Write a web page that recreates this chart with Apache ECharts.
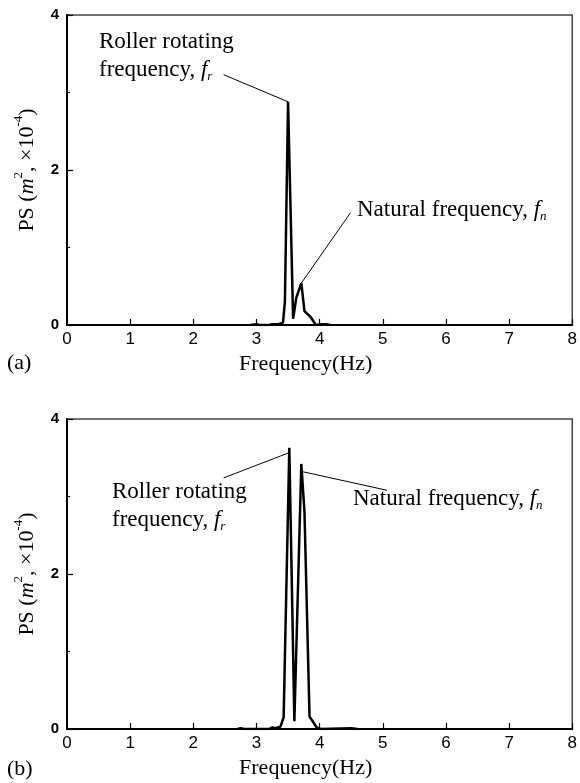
<!DOCTYPE html>
<html>
<head>
<meta charset="utf-8">
<script src="https://cdn.jsdelivr.net/npm/echarts@6/dist/echarts.min.js"></script>
<style>
html,body{margin:0;padding:0;background:#fff;}
#c{width:580px;height:783px;}
</style>
</head>
<body>
<div id="c"></div>
<script>
// Panel (a)
const freqA = [2.9, 3.0, 3.05, 3.2, 3.25, 3.35, 3.42, 3.45, 3.5, 3.58, 3.63, 3.71, 3.76, 3.86, 3.94, 4.03, 4.1, 4.17];
const psA   = [0,   0.01, 0,   0,   0.01, 0.01, 0.03, 0.3, 2.88, 0.08, 0.35, 0.54, 0.18, 0.10, 0,   0.01, 0.01, 0];
// Panel (b)
const freqB = [2.7, 2.75, 2.8, 3.2, 3.25, 3.3, 3.38, 3.43, 3.52, 3.6, 3.71, 3.76, 3.84, 3.89, 3.95, 4.02, 4.5, 4.6];
const psB   = [0,   0.01, 0,   0,   0.02, 0.01, 0.03, 0.15, 3.63, 0.1, 3.42, 2.8, 0.16, 0.10, 0.02, 0,   0.01, 0];
const xTicks = [0, 1, 2, 3, 4, 5, 6, 7, 8];
const yTicks = [0, 2, 4];

const serif = '"Liberation Serif","Times New Roman",serif';
const sans = '"Liberation Sans",Arial,sans-serif';

function pairs(xs, ys){ return xs.map((x,i)=>[x, ys[i]]); }

function xAxisCfg(gi){
  return {
    type:'value', gridIndex:gi, min:xTicks[0], max:xTicks[xTicks.length-1], interval:1,
    axisLine:{show:true, lineStyle:{color:'#000', width:2}},
    axisTick:{show:true, inside:true, length:6, lineStyle:{color:'#000', width:1.2}},
    axisLabel:{color:'#000', fontFamily:sans, fontSize:17, margin:6},
    splitLine:{show:false},
    name:'Frequency(Hz)', nameLocation:'middle', nameGap:28,
    nameTextStyle:{color:'#000', fontFamily:serif, fontSize:22, padding:[0,28,0,0]}
  };
}
function yAxisCfg(gi){
  return {
    type:'value', gridIndex:gi, min:yTicks[0], max:yTicks[yTicks.length-1], interval:2,
    axisLine:{show:true, lineStyle:{color:'#000', width:2}},
    axisTick:{show:true, inside:true, length:6, lineStyle:{color:'#000', width:1.2}},
    minorTick:{show:true, splitNumber:2, length:3, lineStyle:{color:'#000', width:1}},
    axisLabel:{color:'#000', fontFamily:sans, fontSize:15, fontWeight:'bold', margin:8},
    splitLine:{show:false},
    name:'{n|PS (}{i|m}{s|2}{n|, ×10}{s|-4}{n|)}', nameLocation:'middle', nameGap:29,
    nameTextStyle:{
      color:'#000', fontFamily:serif, fontSize:22,
      rich:{
        n:{fontFamily:serif, fontSize:22, color:'#000', lineHeight:26, verticalAlign:'bottom'},
        i:{fontFamily:serif, fontSize:22, fontStyle:'italic', color:'#000', lineHeight:26, verticalAlign:'bottom'},
        s:{fontFamily:serif, fontSize:13, color:'#000', lineHeight:26, verticalAlign:'top'}
      }
    }
  };
}
const lineStyleNote = {color:'#000', width:1, type:'solid'};
function note(coordA, coordB){
  return {silent:true, symbol:['none','none'], label:{show:false}, lineStyle:lineStyleNote,
          data:[[{coord:coordA},{coord:coordB}]]};
}
const richLabel = {
  t:{fontFamily:serif, fontSize:23, color:'#000', lineHeight:28},
  f:{fontFamily:serif, fontSize:23, fontStyle:'italic', color:'#000', lineHeight:28},
  u:{fontFamily:serif, fontSize:13, fontStyle:'italic', color:'#000', lineHeight:28, verticalAlign:'bottom'}
};
function txt(x, y, str){
  return {type:'text', left:x, top:y, style:{text:str, rich:richLabel, font:'23px '+serif, fill:'#000'}};
}

const option = {
  backgroundColor:'#fff',
  animation:false,
  grid:[
    {left:67, top:15, width:511, height:310, show:true, borderColor:'#444', borderWidth:1.5, backgroundColor:'transparent'},
    {left:67, top:419, width:511, height:310, show:true, borderColor:'#444', borderWidth:1.5, backgroundColor:'transparent'}
  ],
  xAxis:[xAxisCfg(0), xAxisCfg(1)],
  yAxis:[yAxisCfg(0), yAxisCfg(1)],
  series:[
    {type:'line', xAxisIndex:0, yAxisIndex:0, data:pairs(freqA, psA), symbol:'none',
     lineStyle:{color:'#000', width:2.5}, markLine:{...note([3.5,2.88],[2.48,3.23])}},
    {type:'line', xAxisIndex:0, yAxisIndex:0, data:[], symbol:'none',
     markLine:{...note([3.71,0.54],[4.49,1.45])}},
    {type:'line', xAxisIndex:1, yAxisIndex:1, data:pairs(freqB, psB), symbol:'none',
     lineStyle:{color:'#000', width:2.5}, markLine:{...note([3.5,3.56],[2.48,3.24])}},
    {type:'line', xAxisIndex:1, yAxisIndex:1, data:[], symbol:'none',
     markLine:{...note([3.73,3.32],[5.07,3.08])}}
  ],
  graphic:[
    txt(99, 30, '{t|Roller rotating}\n{t|frequency, }{f|f}{u|r}'),
    txt(357, 198, '{t|Natural frequency, }{f|f}{u|n}'),
    txt(112, 480, '{t|Roller rotating}\n{t|frequency, }{f|f}{u|r}'),
    txt(353, 487, '{t|Natural frequency, }{f|f}{u|n}'),
    {type:'text', left:7, top:352, style:{text:'(a)', font:'22px '+serif, fill:'#000'}},
    {type:'text', left:7, top:758, style:{text:'(b)', font:'22px '+serif, fill:'#000'}}
  ]
};
const chart = echarts.init(document.getElementById('c'), null, {renderer:'canvas'});
chart.setOption(option);
</script>
</body>
</html>
